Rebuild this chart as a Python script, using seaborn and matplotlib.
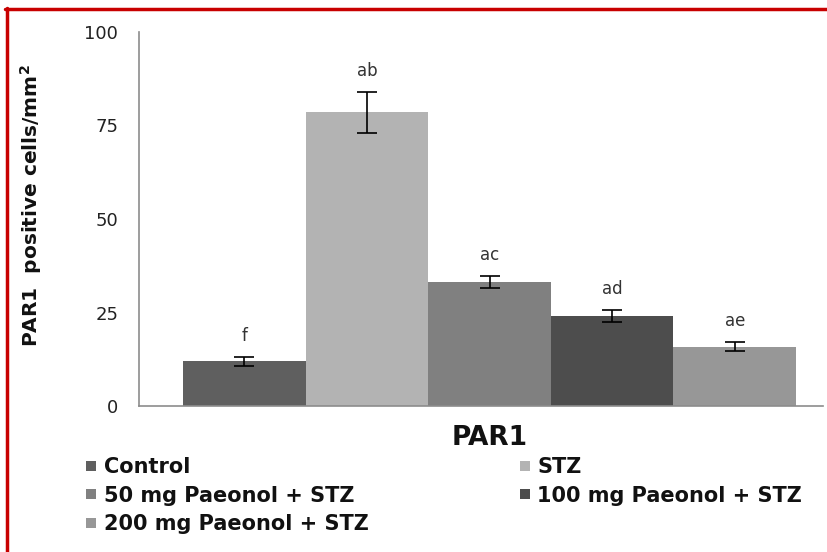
import matplotlib
matplotlib.use("Agg")
import matplotlib.pyplot as plt
from matplotlib.lines import Line2D
import numpy as np
import pandas as pd
import seaborn as sns

# Group means, SEM and significance letters
groups = ["Control", "STZ", "50 mg Paeonol + STZ", "100 mg Paeonol + STZ", "200 mg Paeonol + STZ"]
means = [11.9, 78.5, 33.1, 24.1, 15.9]
errors = [1.25, 5.5, 1.6, 1.55, 1.3]
letters = ["f", "ab", "ac", "ad", "ae"]
colors = ["#5f5f5f", "#b3b3b3", "#808080", "#4d4d4d", "#979797"]
category = "PAR1"
yticks = [0, 25, 50, 75, 100]

sns.set_style("white")
plt.rcParams["font.family"] = ["DejaVu Sans"]

df = pd.DataFrame({"category": [category] * len(groups), "group": groups, "value": means})

fig = plt.figure(figsize=(8.27, 5.52), dpi=100)
ax = fig.add_axes([139 / 827, 1 - 406 / 552, (823 - 139) / 827, (406 - 32) / 552])

sns.barplot(data=df, x="category", y="value", hue="group", hue_order=groups,
            palette=colors, errorbar=None, width=0.8, linewidth=0, saturation=1,
            legend=False, ax=ax)

# error bars and letters at bar centres
bars = sorted(ax.patches, key=lambda p: p.get_x())
for bar, m, e, lab in zip(bars, means, errors, letters):
    cx = bar.get_x() + bar.get_width() / 2
    ax.errorbar(cx, m, yerr=e, fmt="none", ecolor="black", elinewidth=1.2,
                capsize=7, capthick=1.2)
    ax.annotate(lab, (cx, m + e), xytext=(0, 15), textcoords="offset points",
                ha="center", va="center", fontsize=12, color="#333333")

ax.set_xlim(-0.4574, 0.4352)
ax.set_ylim(0, 100)
ax.set_yticks(yticks)
ax.set_yticklabels([str(t) for t in yticks], fontsize=13, color="#222222")
ax.tick_params(axis="both", length=0)
ax.tick_params(axis="y", pad=15)
ax.tick_params(axis="x", pad=14)
for lbl in ax.get_xticklabels():
    lbl.set_fontsize(19)
    lbl.set_fontweight("bold")
    lbl.set_color("#111111")
ax.set_xlabel("")
ax.set_ylabel("PAR1  positive cells/mm$^\\mathbf{2}$", fontsize=14.5, fontweight="bold",
              color="#111111")
ax.yaxis.set_label_coords(-0.139, 0.535)
sns.despine(ax=ax)
for s in ("left", "bottom"):
    ax.spines[s].set_color("#8c8c8c")
    ax.spines[s].set_linewidth(1.2)

# legend: two columns, filled column-wise
order = [0, 2, 4, 1, 3]
handles = [Line2D([], [], marker="s", linestyle="none", markersize=7,
                  markerfacecolor=colors[i], markeredgewidth=0) for i in order]
labels = [groups[i] for i in order]
fig.legend(handles, labels, ncol=2, loc="upper left", bbox_to_anchor=(85 / 827, 1 - 457 / 552),
           frameon=False, prop={"weight": "bold", "size": 15}, handlelength=0.6,
           handletextpad=0.3, columnspacing=7.2, labelspacing=0.42, borderpad=0,
           borderaxespad=0, labelcolor="#111111")

# red frame on the left and top edges
fig.add_artist(Line2D([6.5 / 827, 6.5 / 827], [0, 1 - 8 / 552], color="#c80000", lw=2.5,
                      transform=fig.transFigure))
fig.add_artist(Line2D([5 / 827, 1], [1 - 9 / 552, 1 - 9 / 552], color="#c80000", lw=2.5,
                      transform=fig.transFigure))

fig.savefig("out.png", dpi=100)
